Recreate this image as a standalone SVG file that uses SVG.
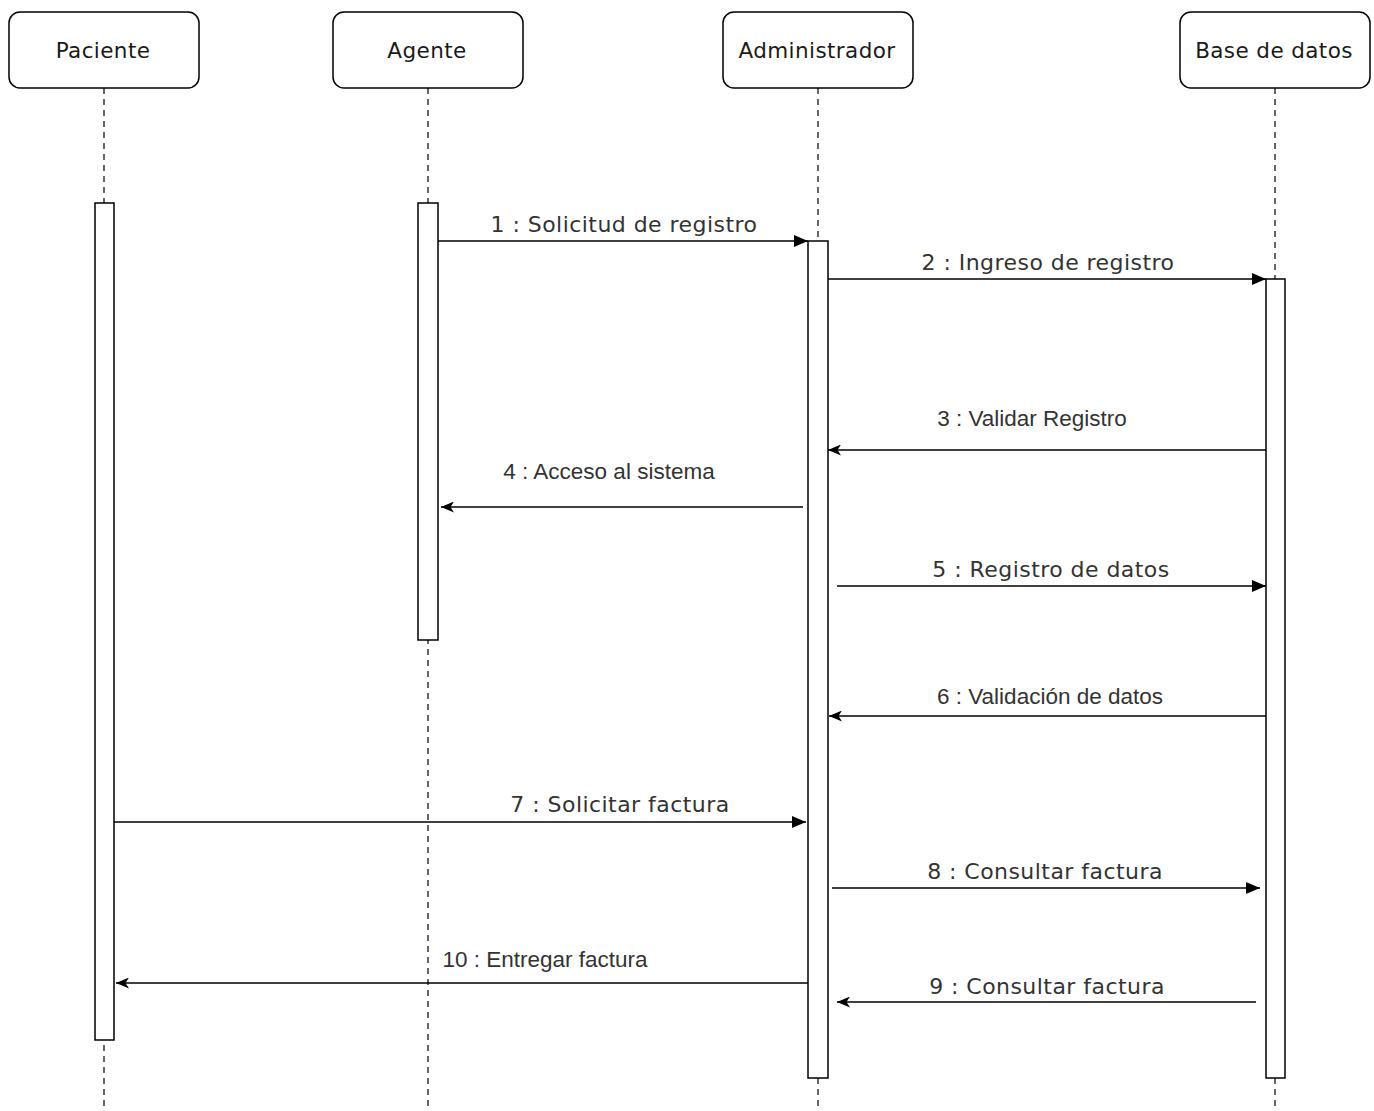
<svg xmlns="http://www.w3.org/2000/svg" width="1374" height="1111" viewBox="0 0 1374 1111">
  <style>
    .head { fill: #ffffff; stroke: #000000; stroke-width: 1.5; }
    .htxt { font-family: "DejaVu Sans", Verdana, sans-serif; font-size: 21.5px; letter-spacing: 0.4px; fill: #1a1a1a; text-anchor: middle; }
    .life { stroke: #000000; stroke-width: 1.2; stroke-dasharray: 6 5; fill: none; }
    .act { fill: #ffffff; stroke: #000000; stroke-width: 1.5; }
    .msg { stroke: #000000; stroke-width: 1.6; fill: none; }
    .lv { font-family: "DejaVu Sans", Verdana, sans-serif; font-size: 22px; letter-spacing: 0.45px; fill: #333333; text-anchor: middle; }
    .la { font-family: "Liberation Sans", Arial, sans-serif; font-size: 22.5px; fill: #333333; text-anchor: middle; }
  </style>
  <defs>
    <marker id="block" viewBox="0 0 14 12" refX="14" refY="6" markerWidth="14" markerHeight="12" markerUnits="userSpaceOnUse" orient="auto">
      <path d="M0,0 L14,6 L0,12 Z" fill="#000000"/>
    </marker>
    <marker id="classic" viewBox="0 0 13 11" refX="13" refY="5.5" markerWidth="13" markerHeight="11" markerUnits="userSpaceOnUse" orient="auto">
      <path d="M0,0 L13,5.5 L0,11 L3.5,5.5 Z" fill="#000000"/>
    </marker>
  </defs>

  <!-- lifelines -->
  <g id="lifelines">
    <line class="life" x1="104" y1="88" x2="104" y2="1111"/>
    <line class="life" x1="428" y1="88" x2="428" y2="1111"/>
    <line class="life" x1="818" y1="88" x2="818" y2="1111"/>
    <line class="life" x1="1275" y1="88" x2="1275" y2="1111"/>
  </g>

  <!-- participants with their activation bars -->
  <g id="paciente">
    <rect class="head" x="9" y="12" width="190" height="76" rx="11"/>
    <text class="htxt" x="103" y="58">Paciente</text>
    <rect class="act" x="95" y="203" width="19" height="837"/>
  </g>
  <g id="agente">
    <rect class="head" x="333" y="12" width="190" height="76" rx="11"/>
    <text class="htxt" x="427" y="58">Agente</text>
    <rect class="act" x="418" y="203" width="20" height="437"/>
  </g>
  <g id="administrador">
    <rect class="head" x="723" y="12" width="190" height="76" rx="11"/>
    <text class="htxt" x="817" y="58">Administrador</text>
    <rect class="act" x="808" y="241" width="20" height="837"/>
  </g>
  <g id="base-de-datos">
    <rect class="head" x="1180" y="12" width="190" height="76" rx="11"/>
    <text class="htxt" x="1274" y="58">Base de datos</text>
    <rect class="act" x="1266" y="279" width="19" height="799"/>
  </g>

  <!-- messages -->
  <g id="connectors">
    <line class="msg" x1="438" y1="241" x2="808" y2="241" marker-end="url(#block)"/>
    <text class="lv" x="624" y="232">1 : Solicitud de registro</text>

    <line class="msg" x1="828" y1="279" x2="1266" y2="279" marker-end="url(#block)"/>
    <text class="lv" x="1048" y="270">2 : Ingreso de registro</text>

    <line class="msg" x1="1266" y1="450" x2="828" y2="450" marker-end="url(#classic)"/>
    <text class="la" x="1032" y="426">3 : Validar Registro</text>

    <line class="msg" x1="803" y1="507" x2="441" y2="507" marker-end="url(#classic)"/>
    <text class="la" x="609" y="479">4 : Acceso al sistema</text>

    <line class="msg" x1="837" y1="586" x2="1266" y2="586" marker-end="url(#block)"/>
    <text class="lv" x="1051" y="577">5 : Registro de datos</text>

    <line class="msg" x1="1266" y1="716" x2="829" y2="716" marker-end="url(#classic)"/>
    <text class="la" x="1050" y="704">6 : Validación de datos</text>

    <line class="msg" x1="114" y1="822" x2="806" y2="822" marker-end="url(#block)"/>
    <text class="lv" x="620" y="812">7 : Solicitar factura</text>

    <line class="msg" x1="832" y1="888" x2="1260" y2="888" marker-end="url(#block)"/>
    <text class="lv" x="1045" y="879">8 : Consultar factura</text>

    <line class="msg" x1="1256" y1="1002" x2="837" y2="1002" marker-end="url(#classic)"/>
    <text class="lv" x="1047" y="994">9 : Consultar factura</text>

    <line class="msg" x1="808" y1="983" x2="116" y2="983" marker-end="url(#classic)"/>
    <text class="la" x="545" y="967">10 : Entregar factura</text>
  </g>
</svg>
